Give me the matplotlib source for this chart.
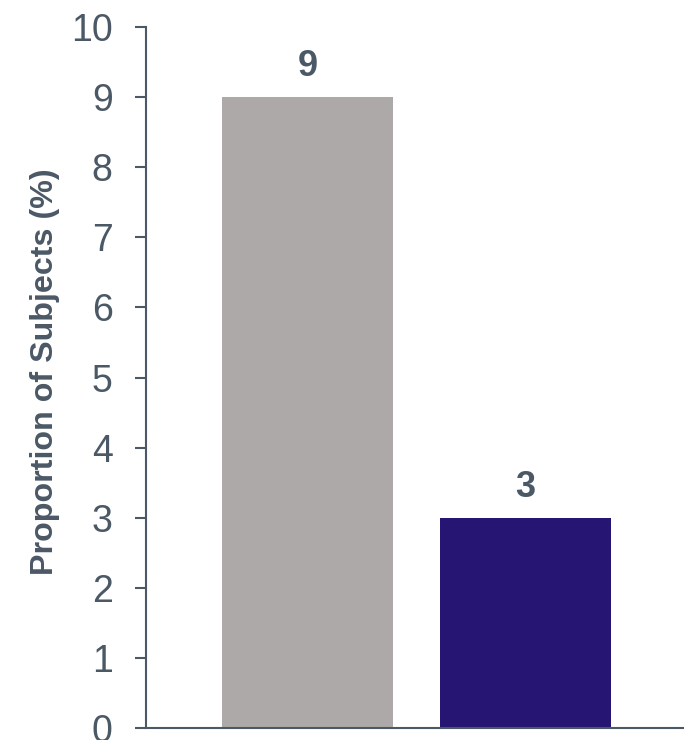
import matplotlib
matplotlib.use('Agg')
import matplotlib.pyplot as plt

# chart data
groups = ['Group A', 'Group B']
values = [9, 3]
bar_colors = ['#ADA9A8', '#271573']
y_ticks = list(range(0, 11))

axis_color = '#4B5866'
text_color = '#4B5866'

plt.rcParams['font.family'] = ['Liberation Sans', 'DejaVu Sans']

fig = plt.figure(figsize=(6.94, 7.40), dpi=100)
ax = fig.add_axes([0.2104, 0.0162, 0.984 - 0.2104, 0.9635 - 0.0162])

x = range(len(groups))
bars = ax.bar(x, values, width=0.784, color=bar_colors)

for b, v in zip(bars, values):
    ax.text(b.get_x() + b.get_width() / 2, v + 0.18, str(v), ha='center', va='bottom',
            fontsize=26, fontweight='bold', color=text_color)

ax.set_xlim(-0.741, 1.722)
ax.set_ylim(0, 10)
ax.set_yticks(y_ticks)
ax.set_xticks([])
ax.tick_params(axis='y', direction='out', length=8, width=1.5, color=axis_color,
               labelsize=27, labelcolor=text_color, pad=16)
ax.set_ylabel('Proportion of Subjects (%)', fontsize=23.2, fontweight='bold', color=text_color)
ax.yaxis.set_label_coords(-0.16, 0.509)

for s in ['top', 'right']:
    ax.spines[s].set_visible(False)
for s in ['left', 'bottom']:
    ax.spines[s].set_color(axis_color)
    ax.spines[s].set_linewidth(1.5)

fig.savefig('out.png', dpi=100)
